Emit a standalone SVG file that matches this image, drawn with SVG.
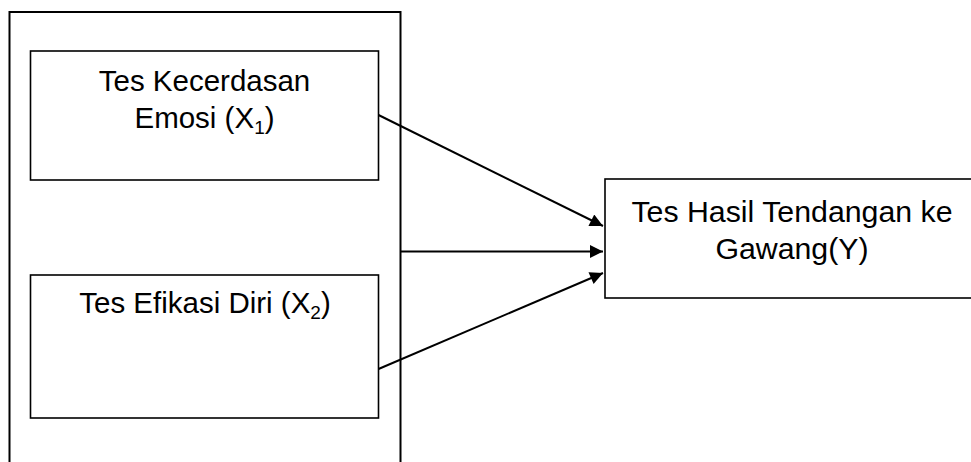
<svg xmlns="http://www.w3.org/2000/svg" width="971" height="462" viewBox="0 0 971 462">
  <style>
    .frame { fill: none; stroke: #000; stroke-width: 2; }
    .box { fill: #fff; stroke: #000; stroke-width: 1.6; }
    .label { font-family: "Liberation Sans", Arial, sans-serif; font-size: 29.5px; fill: #000; text-anchor: middle; }
    .big { font-size: 30.3px; }
    .sub { font-size: 19px; }
    .conn { stroke: #000; stroke-width: 2; fill: none; marker-end: url(#arrow); }
  </style>
  <defs>
    <marker id="arrow" viewBox="0 0 10 10" refX="10" refY="5" markerUnits="userSpaceOnUse" markerWidth="16" markerHeight="13" orient="auto">
      <path d="M0,0 L10,5 L0,10 Z" fill="#000"/>
    </marker>
  </defs>

  <!-- enclosing frame for the two independent variables -->
  <path class="frame" d="M9.5,470 L9.5,12 L400.5,12 L400.5,470"/>

  <g id="x1">
    <rect class="box" x="30.5" y="51" width="348" height="129"/>
    <text class="label" x="204.5" y="91">Tes Kecerdasan</text>
    <text class="label" x="204.5" y="128">Emosi (X<tspan class="sub" dy="6">1</tspan><tspan dy="-6">)</tspan></text>
  </g>

  <g id="x2">
    <rect class="box" x="30.5" y="275" width="348" height="143"/>
    <text class="label" x="205" y="313">Tes Efikasi Diri (X<tspan class="sub" dy="6">2</tspan><tspan dy="-6">)</tspan></text>
  </g>

  <g id="y">
    <rect class="box" x="605" y="179" width="375" height="119"/>
    <text class="label big" x="792" y="222">Tes Hasil Tendangan ke</text>
    <text class="label big" x="792" y="259">Gawang(Y)</text>
  </g>

  <g id="connectors">
    <line class="conn" x1="378.5" y1="115" x2="603" y2="226"/>
    <line class="conn" x1="400.5" y1="251.5" x2="603" y2="251.5"/>
    <line class="conn" x1="378.5" y1="369" x2="603" y2="273"/>
  </g>
</svg>
